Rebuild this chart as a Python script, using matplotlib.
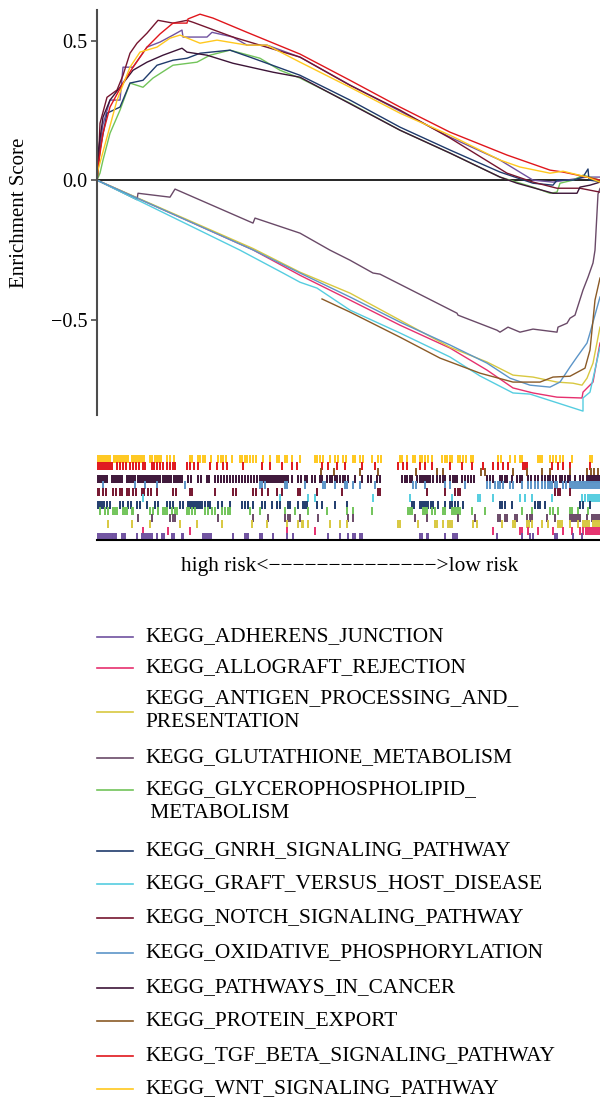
import numpy as np
import matplotlib
matplotlib.use('Agg')
import matplotlib.pyplot as plt
from matplotlib.lines import Line2D

plt.rcParams['font.family'] = ['Liberation Serif', 'DejaVu Serif']

# gene sets, in legend order
names = ['KEGG_ADHERENS_JUNCTION', 'KEGG_ALLOGRAFT_REJECTION',
         'KEGG_ANTIGEN_PROCESSING_AND_\nPRESENTATION', 'KEGG_GLUTATHIONE_METABOLISM',
         'KEGG_GLYCEROPHOSPHOLIPID_\n METABOLISM', 'KEGG_GNRH_SIGNALING_PATHWAY',
         'KEGG_GRAFT_VERSUS_HOST_DISEASE', 'KEGG_NOTCH_SIGNALING_PATHWAY',
         'KEGG_OXIDATIVE_PHOSPHORYLATION', 'KEGG_PATHWAYS_IN_CANCER',
         'KEGG_PROTEIN_EXPORT', 'KEGG_TGF_BETA_SIGNALING_PATHWAY',
         'KEGG_WNT_SIGNALING_PATHWAY']
colors = ['#7052a0', '#e6306e', '#d8c840', '#6a4a68', '#72c45a', '#1f3b6c',
          '#55cde0', '#75152f', '#5c95c8', '#3c1437', '#8a5a26', '#e0161c', '#ffc81e']

# running enrichment score, (rank, ES) pairs
es_adherens = [(0, 0), (2, 0.10), (6, 0.20), (13, 0.287), (23, 0.287), (26, 0.405), (36, 0.405),
               (50, 0.477), (63, 0.495), (76, 0.520), (85, 0.538), (86, 0.513), (110, 0.513),
               (115, 0.530), (136, 0.513), (150, 0.484), (170, 0.484), (203, 0.441), (253, 0.341),
               (353, 0.154), (403, 0.072), (436, 0.0), (456, -0.007), (490, 0.011), (503, 0.011)]
es_allograft = [(0, 0), (156, -0.25), (203, -0.341), (253, -0.430), (303, -0.520), (353, -0.602),
                (390, -0.681), (416, -0.745), (436, -0.763), (460, -0.778), (485, -0.781),
                (486, -0.760), (496, -0.724), (503, -0.584)]
es_antigen = [(0, 0), (156, -0.245), (203, -0.330), (253, -0.405), (303, -0.502), (353, -0.599),
              (390, -0.652), (416, -0.699), (436, -0.706), (460, -0.724), (476, -0.728),
              (485, -0.735), (490, -0.710), (496, -0.656), (503, -0.527)]
es_glutathione = [(0, 0), (40, -0.07), (41, -0.047), (73, -0.061), (78, -0.032), (156, -0.154),
                  (158, -0.136), (203, -0.190), (233, -0.251), (253, -0.287), (276, -0.333),
                  (283, -0.337), (360, -0.477), (361, -0.484), (400, -0.538), (403, -0.545),
                  (411, -0.527), (423, -0.545), (436, -0.534), (460, -0.545), (461, -0.527),
                  (470, -0.513), (473, -0.495), (478, -0.484), (486, -0.394), (491, -0.348),
                  (496, -0.297), (498, -0.251), (501, -0.05), (503, -0.03)]
es_glycero = [(0, 0), (3, 0.025), (6, 0.072), (13, 0.168), (23, 0.251), (33, 0.348), (46, 0.333),
              (56, 0.366), (76, 0.412), (100, 0.423), (113, 0.448), (133, 0.466), (163, 0.437),
              (183, 0.394), (203, 0.366), (253, 0.276), (303, 0.179), (353, 0.097), (403, 0.011),
              (436, -0.025), (453, -0.047), (460, -0.043), (463, -0.011), (476, 0.0), (486, 0.018),
              (493, 0.011), (503, 0.0)]
es_gnrh = [(0, 0), (3, 0.108), (10, 0.240), (23, 0.262), (33, 0.348), (46, 0.358), (60, 0.412),
           (76, 0.430), (90, 0.437), (103, 0.455), (133, 0.466), (153, 0.441), (203, 0.376),
           (253, 0.287), (303, 0.190), (353, 0.108), (403, 0.029), (436, -0.011), (456, -0.018),
           (460, 0.0), (476, 0.0), (486, 0.011), (491, 0.04), (492, 0.0), (503, -0.005)]
es_graft = [(0, 0), (143, -0.251), (186, -0.333), (203, -0.366), (220, -0.387), (253, -0.466),
            (303, -0.548), (353, -0.634), (383, -0.702), (416, -0.763), (433, -0.767),
            (486, -0.828), (486, -0.781), (493, -0.760), (503, -0.599)]
es_notch = [(0, 0), (1, 0.025), (3, 0.204), (10, 0.297), (20, 0.323), (26, 0.376), (33, 0.455),
            (40, 0.491), (50, 0.527), (61, 0.573), (76, 0.563), (90, 0.573), (96, 0.566),
            (136, 0.513), (203, 0.441), (253, 0.34), (303, 0.251), (353, 0.151), (410, 0.025),
            (436, -0.007), (460, -0.029), (483, -0.029), (493, -0.036), (503, -0.043)]
es_oxidative = [(0, 0), (156, -0.25), (203, -0.333), (253, -0.419), (303, -0.509), (353, -0.591),
                (390, -0.656), (413, -0.710), (433, -0.735), (453, -0.742), (463, -0.724),
                (473, -0.670), (480, -0.634), (490, -0.584), (493, -0.548), (503, -0.419)]
es_cancer = [(0, 0), (1, 0.097), (6, 0.226), (13, 0.287), (23, 0.333), (36, 0.394), (50, 0.423),
             (66, 0.448), (85, 0.473), (90, 0.459), (110, 0.448), (136, 0.419), (176, 0.387),
             (203, 0.369), (303, 0.179), (353, 0.097), (403, 0.011), (420, -0.011), (456, -0.047),
             (480, -0.047), (483, -0.025), (493, -0.018), (503, -0.007)]
es_protein = [(225, -0.426), (253, -0.473), (303, -0.563), (343, -0.638), (383, -0.692),
              (416, -0.724), (443, -0.724), (456, -0.706), (473, -0.703), (488, -0.674),
              (493, -0.609), (498, -0.430), (503, -0.351)]
es_tgf = [(0, 0), (1, 0.047), (6, 0.168), (13, 0.262), (26, 0.348), (36, 0.405), (50, 0.477),
          (63, 0.524), (76, 0.563), (90, 0.563), (91, 0.578), (103, 0.595), (116, 0.581),
          (150, 0.530), (203, 0.452), (253, 0.358), (303, 0.262), (353, 0.172), (410, 0.090),
          (453, 0.036), (466, 0.029), (490, 0.011), (503, 0.0)]
es_wnt = [(0, 0), (1, 0.036), (10, 0.154), (20, 0.287), (33, 0.405), (43, 0.459), (60, 0.477),
          (73, 0.509), (83, 0.520), (103, 0.491), (120, 0.502), (150, 0.484), (170, 0.484),
          (203, 0.423), (253, 0.333), (303, 0.240), (353, 0.161), (403, 0.072), (423, 0.047),
          (453, 0.025), (466, 0.032), (490, 0.011), (503, -0.007)]

# hit positions (ranks) for the rug
hits_adherens = [1, 3, 5, 7, 9, 11, 13, 15, 16, 18, 19, 25, 27, 28, 40, 45, 47, 49, 51, 53, 55, 60, 65, 67,
                 75, 77, 85, 86, 106, 108, 110, 112, 114, 136, 148, 150, 151, 163, 165, 176, 190, 196,
                 231, 243, 251, 256, 258, 263, 265, 323, 325, 330, 331, 348, 356, 358, 360, 400, 425,
                 433, 436, 458, 460, 476, 485]
hits_allograft = [46, 71, 93, 190, 218, 396, 423, 425, 431, 441, 456, 466, 475, 483, 486, 489, 491,
                  493, 495, 497, 499, 501, 503]
hits_antigen = [11, 35, 53, 83, 100, 125, 155, 170, 190, 201, 205, 206, 211, 233, 243, 250, 301, 303,
                321, 338, 340, 346, 351, 353, 355, 376, 380, 405, 416, 418, 430, 432, 435, 445, 451,
                461, 463, 465, 473, 481, 486, 488, 490, 492, 496, 498, 500, 502]
hits_glutathione = [41, 55, 73, 76, 78, 121, 156, 171, 188, 191, 193, 203, 221, 251, 256, 318, 330,
                    361, 378, 401, 403, 408, 410, 418, 420, 430, 433, 435, 450, 458, 473, 475, 477,
                    479, 481, 483, 490, 495, 497, 499, 501, 503]
hits_glycero = [3, 8, 11, 16, 18, 20, 26, 28, 30, 35, 36, 53, 56, 61, 66, 68, 70, 75, 78, 80, 90, 92,
                95, 98, 108, 111, 115, 118, 125, 128, 131, 133, 153, 163, 188, 198, 211, 230, 250,
                256, 275, 311, 313, 315, 326, 328, 330, 335, 338, 346, 348, 355, 357, 359, 361, 363,
                375, 388, 425, 435, 453, 456, 461, 473, 475, 481, 491]
hits_gnrh = [1, 3, 5, 7, 10, 13, 23, 26, 31, 34, 40, 43, 50, 58, 61, 70, 73, 76, 83, 86, 91, 93, 95,
             97, 99, 101, 103, 105, 108, 111, 113, 121, 125, 133, 145, 148, 151, 156, 165, 168, 175,
             180, 183, 191, 193, 201, 206, 208, 210, 220, 225, 238, 250, 315, 317, 323, 325, 327,
             329, 331, 334, 336, 341, 348, 353, 355, 358, 361, 366, 403, 405, 408, 415, 438, 441,
             443, 448, 483, 486, 493]
hits_graft = [46, 183, 211, 218, 276, 313, 355, 381, 383, 396, 423, 428, 435, 455, 485, 488, 491,
              493, 495, 497, 499, 501, 503]
hits_notch = [0, 2, 6, 9, 16, 19, 23, 25, 30, 32, 36, 39, 45, 47, 51, 54, 60, 76, 79, 93, 95, 118,
              136, 139, 156, 159, 165, 171, 180, 185, 201, 203, 220, 245, 281, 283, 330, 348, 358,
              361, 363, 458, 461, 463, 473]
hits_oxidative = [6, 38, 48, 60, 88, 163, 165, 168, 188, 190, 208, 226, 228, 238, 248, 250, 256, 263,
                  278, 316, 319, 328, 348, 353, 368, 390, 393, 398, 401, 403, 406, 413, 416, 425,
                  431, 434, 438, 441, 445, 448, 451, 453, 455, 458, 460, 466, 469, 473, 475, 477,
                  479, 481, 483, 485, 487, 489, 491, 493, 495, 497, 499, 501, 503]
hits_cancer = [0, 2, 4, 6, 8, 10, 15, 17, 19, 21, 23, 25, 30, 32, 34, 36, 38, 41, 43, 45, 47, 49, 51,
               53, 55, 57, 59, 61, 63, 66, 68, 70, 72, 74, 77, 79, 81, 83, 85, 91, 94, 101, 104, 110,
               112, 118, 121, 124, 127, 130, 133, 136, 139, 142, 145, 148, 151, 154, 157, 160, 163,
               165, 167, 169, 171, 173, 175, 177, 179, 181, 183, 185, 187, 189, 191, 195, 201, 204,
               208, 210, 215, 218, 223, 225, 230, 233, 235, 238, 240, 243, 246, 248, 251, 258, 265,
               271, 274, 280, 283, 305, 308, 310, 313, 315, 320, 323, 325, 327, 329, 331, 333, 336,
               340, 343, 346, 348, 353, 356, 358, 360, 365, 368, 371, 374, 377, 390, 393, 396, 403,
               405, 408, 410, 415, 420, 423, 425, 431, 434, 438, 441, 445, 448, 451, 453, 456, 459,
               463, 465, 468, 471, 473, 478, 483, 486, 490, 492, 494, 496, 498, 500, 502]
hits_protein = [224, 237, 263, 281, 319, 340, 346, 384, 388, 416, 430, 445, 453, 473, 490, 494,
                497, 501]
hits_tgf = [1, 3, 5, 7, 9, 11, 13, 15, 20, 23, 26, 29, 33, 36, 39, 42, 46, 48, 55, 57, 60, 63, 66,
            70, 73, 76, 78, 90, 93, 97, 101, 113, 120, 126, 130, 146, 165, 173, 185, 195, 200, 225,
            231, 240, 248, 265, 278, 301, 306, 310, 323, 328, 335, 353, 365, 375, 386, 396, 401,
            406, 411, 426, 428, 430, 455, 461, 466, 473, 493]
hits_wnt = [1, 3, 5, 7, 9, 11, 13, 17, 19, 21, 23, 25, 27, 29, 31, 35, 37, 39, 41, 43, 45, 47, 53, 55,
            58, 60, 62, 64, 70, 73, 77, 93, 95, 101, 103, 106, 108, 114, 121, 124, 126, 129, 135,
            143, 145, 148, 150, 153, 156, 159, 166, 173, 180, 182, 188, 190, 195, 203, 218, 220,
            223, 226, 233, 238, 241, 246, 249, 256, 258, 263, 266, 275, 281, 284, 303, 305, 310,
            316, 318, 323, 325, 328, 331, 335, 345, 348, 350, 353, 355, 361, 363, 366, 369, 374,
            376, 401, 404, 413, 418, 423, 425, 441, 443, 445, 453, 456, 459, 463, 466, 475, 493, 495]

curves = [es_adherens, es_allograft, es_antigen, es_glutathione, es_glycero, es_gnrh, es_graft,
          es_notch, es_oxidative, es_cancer, es_protein, es_tgf, es_wnt]
hits = [hits_adherens, hits_allograft, hits_antigen, hits_glutathione, hits_glycero, hits_gnrh,
        hits_graft, hits_notch, hits_oxidative, hits_cancer, hits_protein, hits_tgf, hits_wnt]
# rug rows from top to bottom
rug_order = [12, 11, 10, 9, 8, 7, 6, 5, 4, 3, 2, 1, 0]

W, H = 600, 1100
fig = plt.figure(figsize=(6, 11), dpi=100)

def fx(px):
    return px / W

def fy(py):
    return 1 - py / H

# main ES panel
ax = fig.add_axes([fx(97), fy(415), 1 - fx(97), fy(10) - fy(415)])
for c, col in zip(curves, colors):
    c = np.array(c)
    ax.plot(c[:, 0], c[:, 1], color=col, lw=1.0)
ax.axhline(0, color='black', lw=1.2, zorder=0)
ax.set_xlim(0, 503)
ax.set_ylim(-0.842, 0.61)
for s in ['top', 'right', 'bottom']:
    ax.spines[s].set_visible(False)
ax.spines['left'].set_color('#4d4d4d')
ax.spines['left'].set_linewidth(1.5)
ax.set_xticks([])
ax.set_yticks([-0.5, 0.0, 0.5])
ax.set_yticklabels(['\u22120.5', '0.0', '0.5'])
ax.tick_params(axis='y', length=4, width=1.2, color='#4d4d4d', labelsize=14.5, pad=3)
ax.set_ylabel('Enrichment Score', fontsize=15)
ax.yaxis.set_label_coords(-0.135, 0.5)

# rug panel
rax = fig.add_axes([fx(97), fy(540), 1 - fx(97), fy(452) - fy(540)])
for row, i in enumerate(rug_order):
    yc = 81 - 6.5 * row
    rax.vlines(hits[i], yc - 4, yc + 4, color=colors[i], lw=1.4)
rax.set_xlim(0, 503)
rax.set_ylim(0, 88)
rax.set_xticks([])
rax.set_yticks([])
for s in ['top', 'right', 'left']:
    rax.spines[s].set_visible(False)
rax.spines['bottom'].set_color('black')
rax.spines['bottom'].set_linewidth(1.5)

fig.text(fx(350), fy(566), 'high risk<' + '\u2212' * 14 + '>low risk',
         ha='center', va='center', fontsize=15.4)

# legend drawn by hand
leg_y = [637, 668, 712, 758, 790, 851, 884, 918, 953, 988, 1021, 1056, 1089]
txt_y = [637, 668, 711, 758, 802, 851, 884, 918, 953, 988, 1021, 1056, 1089]
for i in range(len(names)):
    fig.add_artist(Line2D([fx(97), fx(133)], [fy(leg_y[i])] * 2, color=colors[i], lw=1.2,
                          transform=fig.transFigure))
    fig.text(fx(145), fy(txt_y[i]), names[i], ha='left', va='center', fontsize=15.4,
             linespacing=1.35)

fig.savefig('out.png', dpi=100)
